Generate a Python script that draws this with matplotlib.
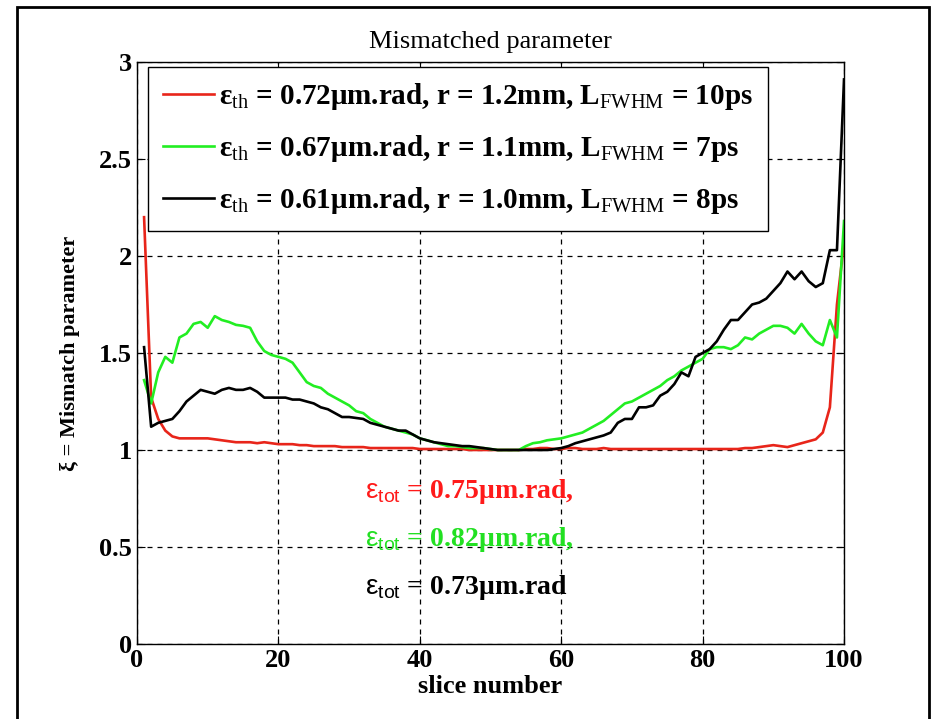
import numpy as np
import matplotlib
matplotlib.use("Agg")
import matplotlib.pyplot as plt
from matplotlib.patches import Rectangle

# -----------------------------
# data: mismatch parameter per slice
# -----------------------------
slices = np.arange(1, 101)

xi_red = [
    2.20, 1.27, 1.16, 1.10, 1.07, 1.06, 1.06, 1.06, 1.06, 1.06,
    1.055, 1.05, 1.045, 1.04, 1.04, 1.04, 1.035, 1.04, 1.035, 1.03,
    1.03, 1.03, 1.025, 1.025, 1.02, 1.02, 1.02, 1.02, 1.015, 1.015,
    1.015, 1.015, 1.01, 1.01, 1.01, 1.01, 1.01, 1.01, 1.01, 1.005,
    1.005, 1.005, 1.005, 1.005, 1.005, 1.005, 1.0, 1.0, 1.0, 1.0,
    1.0, 1.0, 1.0, 1.0, 1.005, 1.005, 1.01, 1.01, 1.005, 1.005,
    1.01, 1.01, 1.005, 1.005, 1.005, 1.01, 1.005, 1.005, 1.005, 1.005,
    1.005, 1.005, 1.005, 1.005, 1.005, 1.005, 1.005, 1.005, 1.005, 1.005,
    1.005, 1.005, 1.005, 1.005, 1.005, 1.01, 1.01, 1.015, 1.02, 1.025,
    1.02, 1.015, 1.025, 1.035, 1.045, 1.055, 1.09, 1.22, 1.75, 2.07,
]

xi_green = [
    1.36, 1.24, 1.40, 1.48, 1.45, 1.58, 1.60, 1.65, 1.66, 1.63,
    1.69, 1.67, 1.66, 1.645, 1.64, 1.63, 1.56, 1.51, 1.49, 1.48,
    1.47, 1.45, 1.40, 1.35, 1.33, 1.32, 1.29, 1.27, 1.25, 1.23,
    1.20, 1.19, 1.16, 1.14, 1.12, 1.11, 1.10, 1.09, 1.08, 1.06,
    1.05, 1.04, 1.03, 1.02, 1.02, 1.015, 1.01, 1.01, 1.01, 1.005,
    1.0, 1.0, 1.0, 1.0, 1.02, 1.035, 1.04, 1.05, 1.055, 1.06,
    1.07, 1.08, 1.09, 1.11, 1.13, 1.15, 1.18, 1.21, 1.24, 1.25,
    1.27, 1.29, 1.31, 1.33, 1.36, 1.38, 1.41, 1.43, 1.45, 1.47,
    1.52, 1.53, 1.53, 1.52, 1.54, 1.58, 1.57, 1.60, 1.62, 1.64,
    1.64, 1.63, 1.60, 1.65, 1.60, 1.56, 1.54, 1.67, 1.58, 2.18,
]

xi_black = [
    1.53, 1.12, 1.14, 1.15, 1.16, 1.20, 1.25, 1.28, 1.31, 1.30,
    1.29, 1.31, 1.32, 1.31, 1.31, 1.32, 1.30, 1.27, 1.27, 1.27,
    1.27, 1.26, 1.26, 1.25, 1.24, 1.22, 1.21, 1.19, 1.17, 1.17,
    1.165, 1.16, 1.14, 1.13, 1.12, 1.11, 1.10, 1.10, 1.08, 1.06,
    1.05, 1.04, 1.035, 1.03, 1.025, 1.02, 1.02, 1.015, 1.01, 1.005,
    1.0, 1.0, 1.0, 1.0, 1.0, 1.0, 1.0, 1.0, 1.005, 1.01,
    1.02, 1.035, 1.045, 1.055, 1.065, 1.075, 1.09, 1.14, 1.16, 1.16,
    1.22, 1.22, 1.23, 1.28, 1.30, 1.34, 1.40, 1.38, 1.48, 1.50,
    1.52, 1.56, 1.62, 1.67, 1.67, 1.71, 1.75, 1.76, 1.78, 1.82,
    1.86, 1.92, 1.88, 1.92, 1.87, 1.84, 1.86, 2.03, 2.03, 2.91,
]

labels = [
    "ε$_{\\mathrm{th}}$ = 0.72μm.rad, r = 1.2mm, L$_{\\mathrm{FWHM}}$ = 10ps",
    "ε$_{\\mathrm{th}}$ = 0.67μm.rad, r = 1.1mm, L$_{\\mathrm{FWHM}}$ = 7ps",
    "ε$_{\\mathrm{th}}$ = 0.61μm.rad, r = 1.0mm, L$_{\\mathrm{FWHM}}$ = 8ps",
]
eps_tot = ["0.75", "0.82", "0.73"]
eps_suffix = [",", ",", ""]

colors = ["#e8251a", "#22ee22", "black"]
text_colors = ["#ff1a1a", "#22e022", "black"]

# -----------------------------
# style
# -----------------------------
plt.rcParams["font.family"] = ["Liberation Serif", "DejaVu Serif"]
plt.rcParams["mathtext.fontset"] = "custom"
plt.rcParams["mathtext.rm"] = "Liberation Serif"
plt.rcParams["mathtext.sf"] = "Liberation Sans"

fig = plt.figure(figsize=(9.32, 7.19), dpi=100)
ax = fig.add_axes([0.147, 0.1043, 0.7586, 0.8095])

for y, c, lab in zip([xi_red, xi_green, xi_black], colors, labels):
    ax.plot(slices, y, color=c, lw=1.9, label=lab)

ax.set_xlim(0, 100)
ax.set_ylim(0, 3)
ax.set_xticks(np.arange(0, 101, 20))
ax.set_yticks(np.arange(0, 3.01, 0.5))
ax.set_yticklabels(["0", "0.5", "1", "1.5", "2", "2.5", "3"])
ax.tick_params(direction="in", top=True, right=True, length=6,
               labelsize=19, width=0.8)
for t in ax.get_xticklabels() + ax.get_yticklabels():
    t.set_fontweight("bold")
ax.grid(True, color="black", linestyle=(0, (4, 4)), linewidth=0.9)
for s in ax.spines.values():
    s.set_linewidth(1.0)

ax.set_title("Mismatched parameter", fontsize=19, pad=10)
ax.set_xlabel("slice number", fontsize=19, fontweight="bold", labelpad=2)
ax.set_ylabel("ξ = Mismatch parameter", fontsize=16, fontweight="bold",
              labelpad=14)

leg = ax.legend(loc="upper left", bbox_to_anchor=(0.0156, 0.992),
                borderaxespad=0, fancybox=False, framealpha=1,
                edgecolor="black", handlelength=1.75, handletextpad=0.2,
                labelspacing=0.72, borderpad=0.5,
                prop={"family": "Liberation Serif", "weight": "bold",
                      "size": 21})
leg.get_frame().set_linewidth(1.0)

# total emittance notes
for i, (val, suf, tc) in enumerate(zip(eps_tot, eps_suffix, text_colors)):
    ax.text(32.3, 0.785 - 0.247 * i,
            "$\\mathsf{ε}_{\\mathsf{tot}}$ = " + val + "μm.rad" + suf,
            color=tc, fontsize=20, fontweight="bold", va="center")

# outer frame
fig.patches.append(Rectangle((0.0182, -0.02), 0.9785, 1.0102,
                             transform=fig.transFigure, fill=False,
                             edgecolor="black", linewidth=2.0))

fig.savefig("out.png", dpi=100, facecolor="white")
